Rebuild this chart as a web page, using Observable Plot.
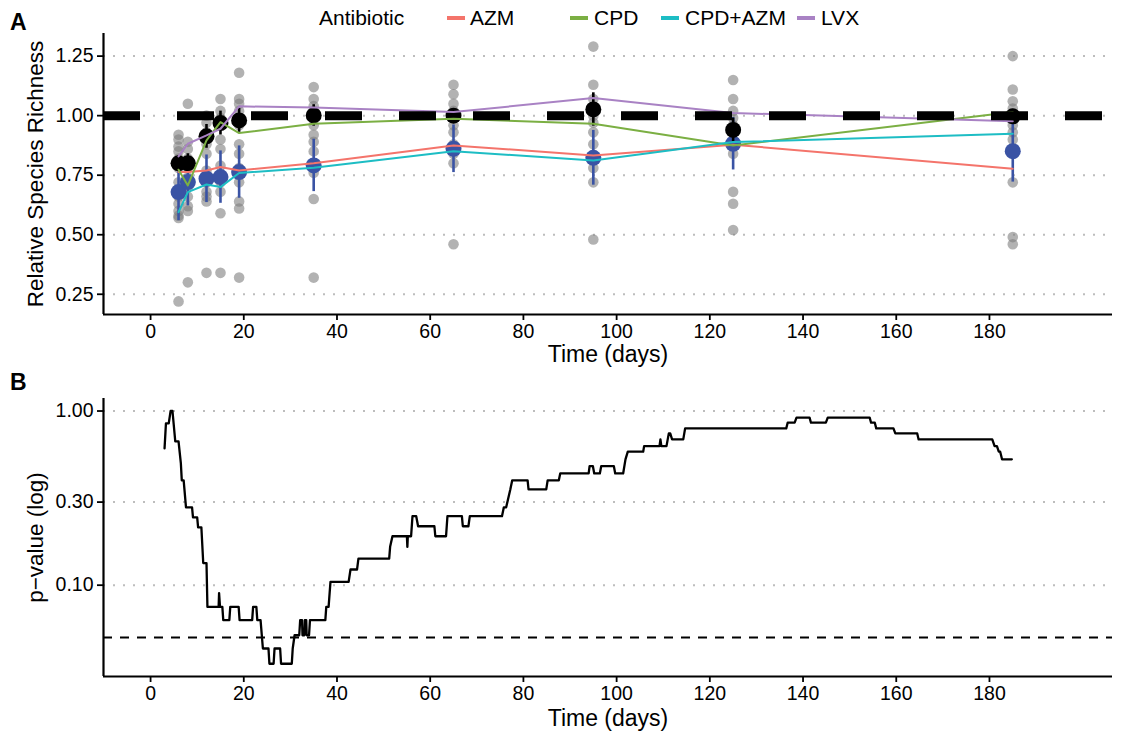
<!DOCTYPE html>
<html><head><meta charset="utf-8">
<script src="https://cdn.jsdelivr.net/npm/d3@7"></script>
<script src="https://cdn.jsdelivr.net/npm/@observablehq/plot@0.6"></script>
<style>
body{margin:0;background:#fff;font-family:"Liberation Sans",Arial,sans-serif;color:#000;}
#wrap{position:relative;width:1122px;height:736px;overflow:hidden;}
.panel{position:absolute;left:0;}
.lab{position:absolute;font-weight:bold;font-size:23px;line-height:23px;}
.leg{position:absolute;top:6px;font-size:21px;line-height:24px;white-space:nowrap;}
.sw{position:absolute;height:4px;width:18px;top:16px;}
</style></head><body><div id="wrap"></div>
<script>
// ---------------- data ----------------
const times = [6, 8, 12, 15, 19, 35, 65, 95, 125, 185];
const antibiotics = ["AZM", "CPD", "CPD+AZM", "LVX"];
const abColors = ["#F4746B", "#7BAF43", "#1DBDC4", "#A982C4"];
const azm    = [0.763, 0.763, 0.770, 0.784, 0.770, 0.800, 0.875, 0.833, 0.878, 0.777];
const cpd    = [0.773, 0.707, 0.896, 0.973, 0.927, 0.966, 0.987, 0.966, 0.875, 1.015];
const cpdAzm = [0.595, 0.679, 0.711, 0.700, 0.759, 0.781, 0.851, 0.812, 0.889, 0.924];
const lvx    = [0.829, 0.882, 0.917, 0.945, 1.039, 1.034, 1.015, 1.074, 1.011, 0.977];
const blackMean = [0.800, 0.800, 0.913, 0.969, 0.980, 1.001, 1.000, 1.026, 0.940, 0.997];
const blackErr  = [0.030, 0.040, 0.050, 0.050, 0.050, 0.045, 0.030, 0.070, 0.050, 0.020];
const blueMean  = [0.679, 0.721, 0.735, 0.742, 0.763, 0.791, 0.861, 0.823, 0.882, 0.851];
const blueErr   = [0.120, 0.100, 0.100, 0.110, 0.110, 0.110, 0.100, 0.115, 0.110, 0.130];
const graySamples = [
  [0.92, 0.90, 0.87, 0.85, 0.82, 0.78, 0.72, 0.66, 0.63, 0.60, 0.58, 0.57, 0.22],
  [1.05, 0.89, 0.86, 0.82, 0.78, 0.74, 0.70, 0.66, 0.62, 0.60, 0.30],
  [1.00, 0.97, 0.93, 0.88, 0.84, 0.77, 0.72, 0.68, 0.66, 0.64, 0.34],
  [1.07, 1.02, 0.99, 0.96, 0.90, 0.86, 0.79, 0.72, 0.68, 0.59, 0.34],
  [1.18, 1.07, 1.05, 1.02, 0.96, 0.88, 0.84, 0.78, 0.72, 0.64, 0.61, 0.32],
  [1.12, 1.07, 1.04, 1.02, 0.96, 0.92, 0.89, 0.85, 0.80, 0.76, 0.65, 0.32],
  [1.13, 1.09, 1.05, 1.02, 0.99, 0.96, 0.93, 0.88, 0.84, 0.80, 0.46],
  [1.29, 1.13, 1.07, 1.03, 1.00, 0.97, 0.93, 0.88, 0.82, 0.78, 0.72, 0.48],
  [1.15, 1.07, 1.02, 0.99, 0.96, 0.93, 0.89, 0.84, 0.68, 0.63, 0.52],
  [1.25, 1.11, 1.06, 1.03, 1.01, 0.99, 0.96, 0.93, 0.90, 0.72, 0.49, 0.46]
];
const richnessTicks = [0.25, 0.50, 0.75, 1.00, 1.25];
const timeTicks = [0, 20, 40, 60, 80, 100, 120, 140, 160, 180];
// panel B: sliding-window p-value (time in days, p-value)
const pTime = [3.0,3.3,3.9,4.3,4.7,5.3,6.0,6.5,6.7,7.1,7.6,8.9,9.1,10.0,10.2,10.9,11.3,12.0,12.2,14.6,14.7,14.9,15.4,15.6,16.9,17.1,18.9,19.1,21.8,22.0,22.7,22.9,23.6,24.1,25.3,25.5,26.4,26.6,27.8,28.0,30.3,30.5,30.9,31.9,32.1,32.5,32.6,33.0,33.1,33.4,33.5,34.0,34.2,37.5,37.7,38.2,38.6,42.5,42.9,44.3,44.6,51.2,51.4,51.9,55.0,55.1,55.2,55.9,56.2,57.0,57.4,60.9,61.1,63.4,63.7,66.8,67.0,68.2,68.5,75.4,75.8,76.3,77.2,77.6,80.9,81.1,84.9,85.2,87.6,87.9,94.0,94.2,94.9,95.2,96.4,96.7,99.4,99.7,101.4,101.9,102.4,105.7,105.9,109.2,109.4,109.6,110.7,111.2,111.5,111.9,114.3,114.7,136.4,136.7,138.2,138.6,141.4,141.7,144.9,145.3,154.3,154.6,155.4,155.7,159.4,159.8,164.5,164.8,180.6,181.1,181.6,182.0,182.3,182.7,184.8];
const pValue = [0.61,0.85,0.85,1.0,1.0,0.67,0.67,0.50,0.40,0.40,0.28,0.28,0.245,0.245,0.215,0.215,0.134,0.134,0.075,0.075,0.09,0.075,0.075,0.063,0.063,0.075,0.075,0.063,0.063,0.075,0.075,0.063,0.063,0.0433,0.0433,0.0354,0.0354,0.0433,0.0433,0.0354,0.0354,0.0433,0.0516,0.0516,0.063,0.063,0.0516,0.0516,0.063,0.063,0.0516,0.0516,0.063,0.063,0.075,0.075,0.1045,0.1045,0.123,0.123,0.142,0.142,0.166,0.191,0.191,0.166,0.191,0.191,0.249,0.249,0.218,0.218,0.191,0.191,0.249,0.249,0.218,0.218,0.249,0.249,0.28,0.28,0.355,0.40,0.40,0.355,0.355,0.40,0.40,0.438,0.438,0.483,0.483,0.438,0.438,0.483,0.483,0.438,0.438,0.528,0.584,0.584,0.629,0.629,0.687,0.629,0.629,0.744,0.744,0.687,0.687,0.795,0.795,0.857,0.857,0.916,0.916,0.857,0.857,0.916,0.916,0.857,0.857,0.795,0.795,0.744,0.744,0.687,0.687,0.629,0.629,0.584,0.584,0.528,0.528];
const pTicks = [0.10, 0.30, 1.00];
const pThreshold = 0.05;

// ---------------- tables ----------------
const seriesList = [azm, cpd, cpdAzm, lvx];
const lineRows = antibiotics.flatMap((ab, k) => times.map((t, i) => ({t, v: seriesList[k][i], ab})));
const grayRows = times.flatMap((t, i) => graySamples[i].map(v => ({t, v})));
const blackRows = times.map((t, i) => ({t, m: blackMean[i], e: blackErr[i]}));
const blueRows = times.map((t, i) => ({t, m: blueMean[i], e: blueErr[i]}));
const pRows = pTime.map((t, i) => ({t, p: pValue[i]}));

const FONT = "'Liberation Sans', Arial, Helvetica, sans-serif";
const xDomain = [-10.1, 206.4];
const gridStyle = {stroke: "#bdbdbd", strokeWidth: 2, strokeOpacity: 1, strokeDasharray: "2,8"};
const axisStyle = {tickSize: 6, tickPadding: 4, fontSize: 19.5, strokeWidth: 1.8, color: "black", label: null};
const svgStyle = {fontFamily: FONT, fontSize: "19.5px", background: "white", color: "black", overflow: "visible"};

const wrap = document.getElementById("wrap");

// ---------------- panel A ----------------
const yDomA = [0.165, 1.345];
const plotA = Plot.plot({
  width: 1122, height: 370,
  marginLeft: 103, marginRight: 10, marginTop: 33, marginBottom: 56,
  style: svgStyle,
  x: {domain: xDomain},
  y: {domain: yDomA},
  color: {domain: antibiotics, range: abColors},
  marks: [
    Plot.gridY(richnessTicks, gridStyle),
    Plot.dot(grayRows, {x: "t", y: "v", r: 5.3, fill: "#7f7f7f", fillOpacity: 0.6}),
    Plot.ruleX(blueRows, {x: "t", y1: d => d.m - d.e, y2: d => d.m + d.e, stroke: "#3A53A4", strokeWidth: 2.6}),
    Plot.dot(blueRows, {x: "t", y: "m", r: 8, fill: "#3A53A4"}),
    Plot.ruleX(blackRows, {x: "t", y1: d => d.m - d.e, y2: d => d.m + d.e, stroke: "black", strokeWidth: 2.6}),
    Plot.dot(blackRows, {x: "t", y: "m", r: 8, fill: "black"}),
    Plot.line(lineRows, {x: "t", y: "v", z: "ab", stroke: "ab", strokeWidth: 2}),
    Plot.ruleY([1], {stroke: "black", strokeWidth: 9, strokeDasharray: "37,37"}),
    Plot.ruleX([xDomain[0]], {stroke: "black", strokeWidth: 2.2}),
    Plot.ruleY([yDomA[0]], {stroke: "black", strokeWidth: 2.2}),
    Plot.axisY({...axisStyle, ticks: richnessTicks, tickFormat: d3.format(".2f")}),
    Plot.axisX({...axisStyle, ticks: timeTicks, tickFormat: d3.format("d")}),
    Plot.text(["Time (days)"], {frameAnchor: "bottom", dy: 47, fontSize: 23, textAnchor: "middle", text: d => d, fill: "black"}),
    Plot.text(["Relative Species Richness"], {frameAnchor: "left", dx: -68, rotate: -90, textAnchor: "middle", fontSize: 22.5, text: d => d, fill: "black"})
  ]
});
plotA.classList.add("panel");
plotA.style.top = "0px";
wrap.appendChild(plotA);

// ---------------- panel B ----------------
const yDomB = [0.0299, 1.18];
const plotB = Plot.plot({
  width: 1122, height: 366,
  marginLeft: 103, marginRight: 10, marginTop: 28, marginBottom: 60,
  style: svgStyle,
  x: {domain: xDomain},
  y: {type: "log", domain: yDomB},
  marks: [
    Plot.gridY(pTicks, gridStyle),
    Plot.ruleY([pThreshold], {stroke: "black", strokeWidth: 2, strokeDasharray: "9,8"}),
    Plot.line(pRows, {x: "t", y: "p", stroke: "black", strokeWidth: 2.3}),
    Plot.ruleX([xDomain[0]], {stroke: "black", strokeWidth: 2.2}),
    Plot.ruleY([yDomB[0]], {stroke: "black", strokeWidth: 2.2}),
    Plot.axisY({...axisStyle, ticks: pTicks, tickFormat: d3.format(".2f")}),
    Plot.axisX({...axisStyle, ticks: timeTicks, tickFormat: d3.format("d")}),
    Plot.text(["Time (days)"], {frameAnchor: "bottom", dy: 49, fontSize: 23, textAnchor: "middle", text: d => d, fill: "black"}),
    Plot.text(["p\u2212value (log)"], {frameAnchor: "left", dx: -68, rotate: -90, textAnchor: "middle", fontSize: 22.5, text: d => d, fill: "black"})
  ]
});
plotB.classList.add("panel");
plotB.style.top = "370px";
wrap.appendChild(plotB);

// ---------------- labels & legend ----------------
function addDiv(cls, text, left, top, extra) {
  const d = document.createElement("div");
  d.className = cls; d.textContent = text;
  d.style.left = left + "px"; if (top != null) d.style.top = top + "px";
  if (extra) Object.assign(d.style, extra);
  wrap.appendChild(d);
  return d;
}
addDiv("lab", "A", 10, 11);
addDiv("lab", "B", 10, 371);
addDiv("leg", "Antibiotic", 319);
const swLeft = [447, 570, 661, 797];
const txtLeft = [470, 594, 685, 821];
antibiotics.forEach((ab, i) => {
  addDiv("sw", "", swLeft[i], null, {background: abColors[i]});
  addDiv("leg", ab, txtLeft[i]);
});
</script>
</body></html>
